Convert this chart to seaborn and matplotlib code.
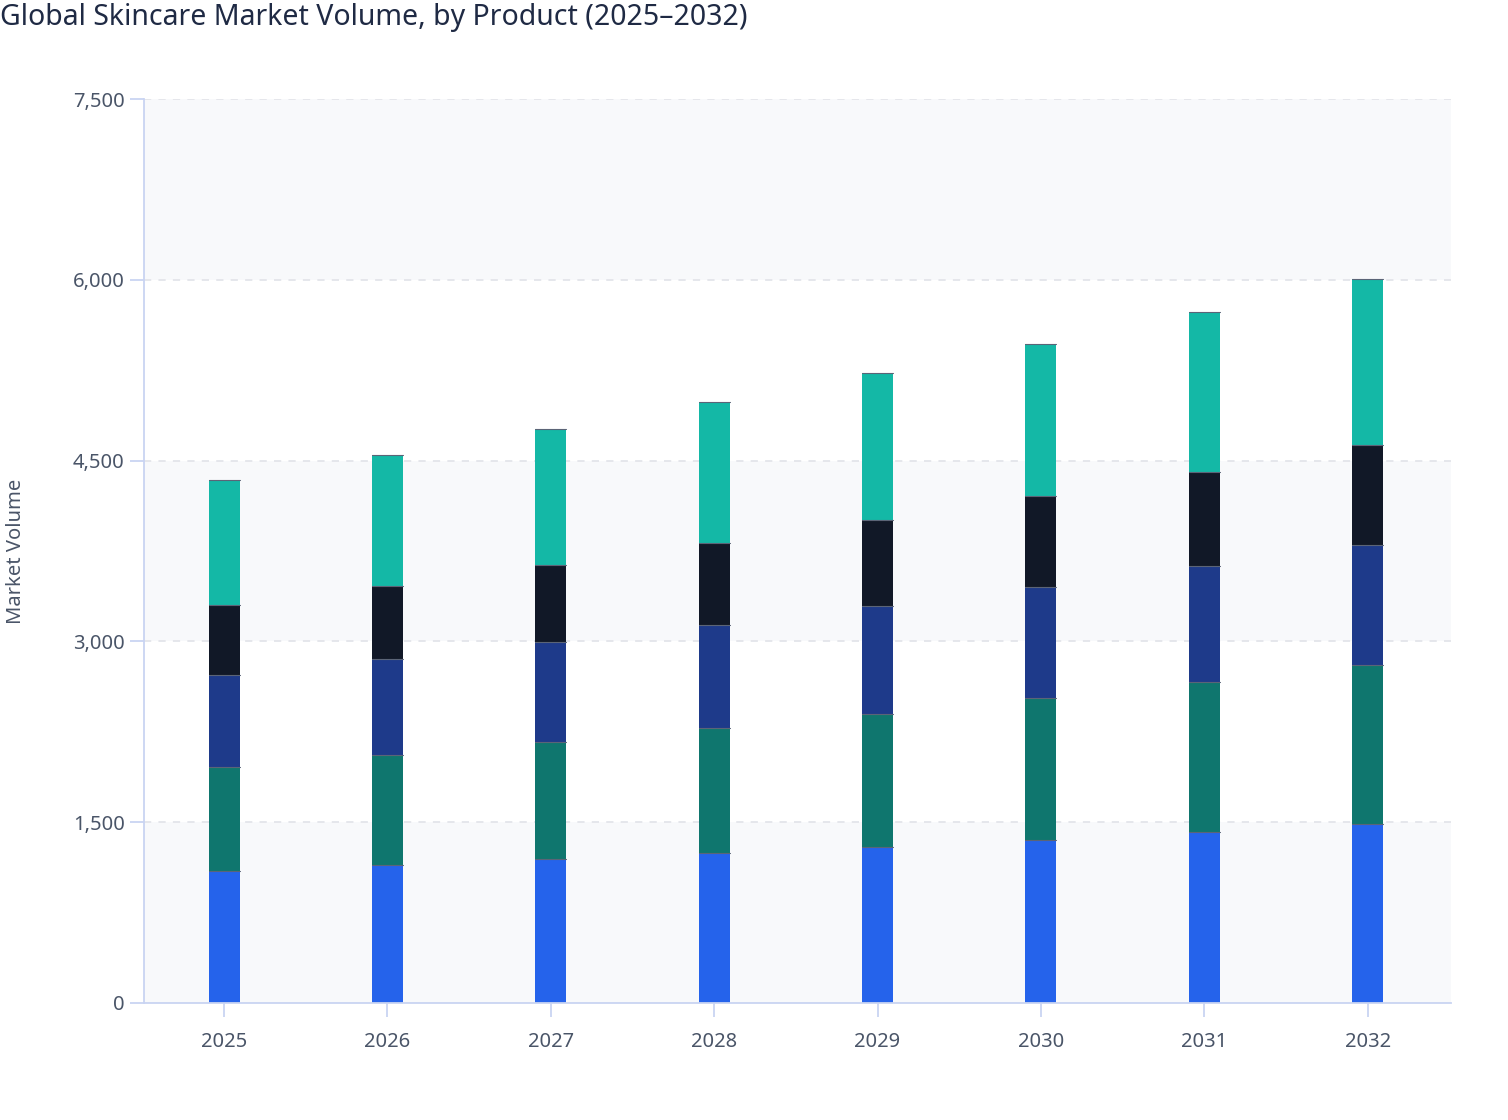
import numpy as np
import pandas as pd
import matplotlib
matplotlib.use("Agg")
import matplotlib.pyplot as plt
import seaborn as sns

years = ["2025", "2026", "2027", "2028", "2029", "2030", "2031", "2032"]
products = ["Moisturizers", "Cleansers", "Serums", "Sunscreens", "Masks & Others"]
moisturizers = [1095, 1145, 1195, 1245, 1296, 1355, 1417, 1482]
cleansers = [863, 910, 968, 1038, 1105, 1173, 1243, 1319]
serums = [767, 797, 828, 856, 889, 923, 963, 997]
sunscreens = [579, 609, 639, 677, 716, 755, 785, 828]
masks = [1037, 1085, 1132, 1171, 1219, 1264, 1325, 1380]
colors = ["#2563eb", "#0f766e", "#1e3a8a", "#111827", "#14b8a6"]

series = [moisturizers, cleansers, serums, sunscreens, masks]

sns.set_style("white")
plt.rcParams["font.family"] = ["Noto Sans", "DejaVu Sans"]

fig = plt.figure(figsize=(15.08, 11.2), dpi=100)
ax = fig.add_axes([144 / 1508, 1 - 1003 / 1120, (1451 - 144) / 1508, (1003 - 99) / 1120])

# alternating background bands
ax.set_facecolor("white")
for lo in [0, 3000, 6000]:
    ax.axhspan(lo, lo + 1500, color="#f8f9fb", zorder=0, lw=0)

# stacked bars: draw running totals, tallest first so the lower ones sit on top
cum = np.cumsum(np.array(series), axis=0)
for i in range(len(series) - 1, -1, -1):
    df = pd.DataFrame({"year": years, "value": cum[i]})
    sns.barplot(data=df, x="year", y="value", color=colors[i], width=0.19,
                saturation=1, linewidth=0, ax=ax, zorder=2)
    # thin seam at the top of each segment
    for p in ax.patches[-len(years):]:
        ax.plot([p.get_x(), p.get_x() + p.get_width()], [p.get_height()] * 2,
                color="#5b6477", lw=0.8, zorder=3)

ax.set_ylim(0, 7500)
ax.set_xlim(-0.49, 7.51)
ax.set_yticks([0, 1500, 3000, 4500, 6000, 7500])
ax.set_yticklabels(["0", "1,500", "3,000", "4,500", "6,000", "7,500"])
for y in [1500, 3000, 4500, 6000, 7500]:
    ax.axhline(y, color="#e3e5ea", lw=1.3, ls=(0, (4, 4)), zorder=1)

for s in ["top", "right"]:
    ax.spines[s].set_visible(False)
for s in ["left", "bottom"]:
    ax.spines[s].set_color("#c9d4f2")
    ax.spines[s].set_linewidth(1.3)

ax.tick_params(axis="both", colors="#c9d4f2", labelcolor="#4a5568", labelsize=14.5,
               length=10, width=1.3, direction="out", bottom=True, left=True)
ax.tick_params(axis="x", pad=11)
ax.tick_params(axis="y", pad=4)
ax.set_xlabel("")
ax.set_ylabel("")
fig.text(16 / 1508, 1 - 551 / 1120, "Market Volume", rotation=90, fontsize=14.5,
         color="#4a5568", ha="center", va="center")

fig.text(0.0, 1 - 18 / 1120, "Global Skincare Market Volume, by Product (2025\u20132032)",
         fontsize=20.5, fontweight="medium", color="#1f2a44", ha="left", va="center")

fig.savefig("out.png", dpi=100)
